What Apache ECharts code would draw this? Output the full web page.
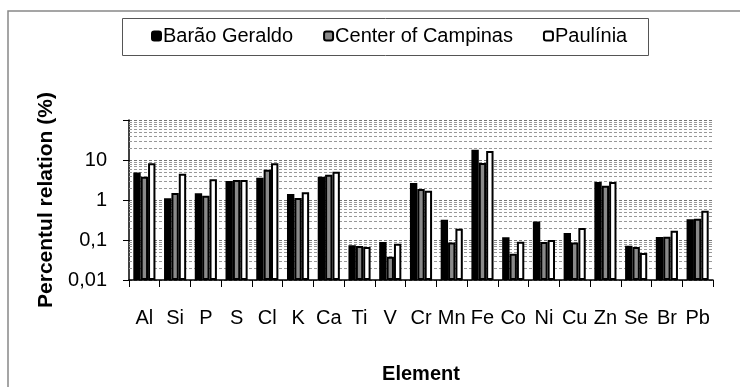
<!DOCTYPE html>
<html><head><meta charset="utf-8">
<script src="https://cdn.jsdelivr.net/npm/echarts@6/dist/echarts.min.js"></script>
<style>html,body{margin:0;padding:0;background:#fff}#c{width:740px;height:387px}</style>
</head><body><div id="c"></div>
<script>
var categories = ['Al','Si','P','S','Cl','K','Ca','Ti','V','Cr','Mn','Fe','Co','Ni','Cu','Zn','Se','Br','Pb'];
var baraoGeraldo = [4.9,1.1,1.47,3.0,3.6,1.41,3.8,0.074,0.089,2.66,0.32,18,0.117,0.29,0.15,2.8,0.072,0.119,0.33];
var centerCampinas = [3.8,1.5,1.28,3.16,5.7,1.12,4.3,0.071,0.038,1.88,0.087,8.4,0.045,0.089,0.086,2.28,0.067,0.12,0.34];
var paulinia = [8.3,4.5,3.3,3.16,8.3,1.56,5.1,0.067,0.081,1.7,0.19,16.8,0.091,0.1,0.2,2.8,0.047,0.17,0.54];
var yTickLabels = ['0,01','0,1','1','10'];

var minorLines = [];
[0.01,0.1,1,10].forEach(function(d){ for (var k=2;k<=9;k++) minorLines.push({yAxis: Number((d*k).toPrecision(3))}); });

var font = '"Liberation Sans", Arial, sans-serif';
var chart = echarts.init(document.getElementById('c'));
var barBorder = {borderColor:'#000', borderWidth:2};
chart.setOption({
  animation:false,
  textStyle:{fontFamily:font},
  graphic:[
    {type:'rect', shape:{x:8,y:11,width:800,height:420}, style:{fill:'none',stroke:'#888',lineWidth:1.5}, silent:true},
    {type:'rect', shape:{x:122.5,y:18.5,width:526,height:37}, style:{fill:'none',stroke:'#555',lineWidth:1}, silent:true}
  ],
  legend:{
    left:151, top:26, itemWidth:9, itemHeight:9, itemGap:30, padding:0,
    textStyle:{fontSize:20, color:'#000', fontFamily:font, padding:[0,0,0,-3]},
    data:['Barão Geraldo','Center of Campinas','Paulínia']
  },
  grid:{left:129, right:27, top:120, bottom:107},
  xAxis:{
    type:'category', data:categories,
    name:'Element', nameLocation:'middle', nameGap:84,
    nameTextStyle:{fontSize:20, fontWeight:'bold', color:'#000'},
    axisLine:{lineStyle:{color:'#000', width:1.5}},
    axisTick:{show:true, length:7, lineStyle:{color:'#000'}},
    axisLabel:{fontSize:20, color:'#000', margin:28, interval:0, hideOverlap:false}
  },
  yAxis:{
    type:'log', logBase:10, min:0.01, max:100, startValue:0.01,
    name:'Percentul relation (%)', nameLocation:'middle', nameGap:64, nameRotate:90,
    nameTextStyle:{fontSize:21, fontWeight:'bold', color:'#000'},
    axisLine:{show:true, lineStyle:{color:'#000', width:1.5}},
    axisTick:{show:true, length:6, lineStyle:{color:'#000'}},
    axisLabel:{fontSize:20, color:'#000', margin:22, formatter:function(v){
      var e = Math.round(Math.log10(v)) + 2; return e>=0 && e<yTickLabels.length ? yTickLabels[e] : '';
    }},
    splitLine:{show:true, lineStyle:{color:'#777', type:[3,2], width:1}}
  },
  series:[
    {name:'gridMinor', type:'line', data:[], z:1, silent:true,
     markLine:{silent:true, z:1, symbol:'none', label:{show:false}, data:minorLines,
       lineStyle:{color:'#999', type:[3,2], width:1}, emphasis:{disabled:true}}},
    {name:'Barão Geraldo', type:'bar', data:baraoGeraldo, barGap:'0%', barCategoryGap:'28%', z:3,
     itemStyle:Object.assign({color:'#000'}, barBorder)},
    {name:'Center of Campinas', type:'bar', data:centerCampinas, barGap:'0%', barCategoryGap:'28%', z:3,
     itemStyle:Object.assign({color:'#8a8a8a'}, barBorder)},
    {name:'Paulínia', type:'bar', data:paulinia, barGap:'0%', barCategoryGap:'28%', z:3,
     itemStyle:Object.assign({color:'#fff'}, barBorder)}
  ]
});
</script></body></html>
